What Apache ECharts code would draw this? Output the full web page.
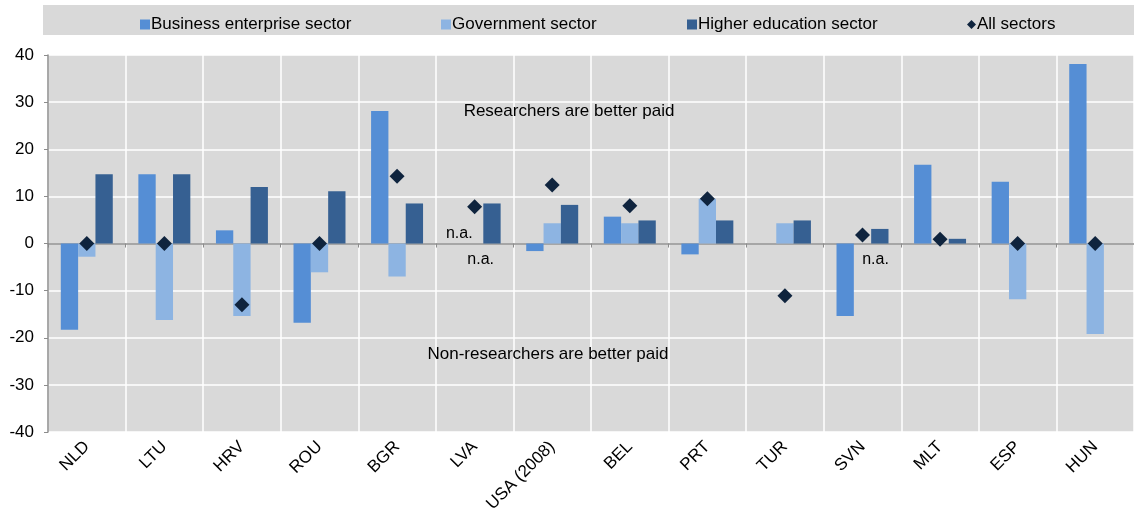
<!DOCTYPE html>
<html>
<head>
<meta charset="utf-8">
<script src="https://cdn.jsdelivr.net/npm/echarts@6/dist/echarts.min.js"></script>
<style>
  html, body { margin: 0; padding: 0; background: #fff; }
  #chart { width: 1134px; height: 515px; }
</style>
</head>
<body>
<div id="chart"></div>
<script>
var categories = ['NLD', 'LTU', 'HRV', 'ROU', 'BGR', 'LVA', 'USA (2008)', 'BEL', 'PRT', 'TUR', 'SVN', 'MLT', 'ESP', 'HUN'];
var business = [-18.3, 14.7, 2.8, -16.8, 28.1, null, -1.6, 5.7, -2.3, null, -15.4, 16.7, 13.1, 38.1];
var government = [-2.8, -16.2, -15.4, -6.1, -7.0, null, 4.3, 4.3, 9.5, 4.3, null, null, -11.8, -19.2];
var higher = [14.7, 14.7, 12.0, 11.1, 8.5, 8.5, 8.2, 4.9, 4.9, 4.9, 3.1, 1.0, null, null];
var allSectors = [0, 0, -13.0, 0, 14.3, 7.8, 12.4, 8.0, 9.5, -11.1, 1.8, 0.9, 0, 0];
var yTicks = { min: -40, max: 40, interval: 10 };

var font = 'Arial, "Liberation Sans", sans-serif';
var colors = ['#558ed5', '#8db4e2', '#366092', '#0f243e'];

function legendAt(left, name, icon, w, h) {
  return {
    left: left, top: 11, itemWidth: w, itemHeight: h, itemGap: 0,
    icon: icon, data: [name], selectedMode: false,
    textStyle: { fontFamily: font, fontSize: 17, color: '#000', padding: [0, 0, 0, -4] }
  };
}

// n.a. labels sit on the zero line
function naPoint(cat, dx, dy) {
  return {
    coord: [cat, 0], symbolSize: 0,
    label: { show: true, formatter: 'n.a.', offset: [dx, dy], color: '#000', fontFamily: font, fontSize: 16 }
  };
}

var chart = echarts.init(document.getElementById('chart'));
chart.setOption({
  animation: false,
  color: colors,
  graphic: [
    { type: 'rect', z: -10, shape: { x: 43, y: 5, width: 1091, height: 30 }, style: { fill: '#d9d9d9' } },
    { type: 'text', z: 100, x: 569, y: 111, style: { text: 'Researchers are better paid', font: '17px ' + font, fill: '#000', textAlign: 'center', textVerticalAlign: 'middle' } },
    { type: 'text', z: 100, x: 548, y: 354, style: { text: 'Non-researchers are better paid', font: '17px ' + font, fill: '#000', textAlign: 'center', textVerticalAlign: 'middle' } }
  ],
  legend: [
    legendAt(135, 'Business enterprise sector', 'rect', 10, 10),
    legendAt(436, 'Government sector', 'rect', 10, 10),
    legendAt(682, 'Higher education sector', 'rect', 10, 10),
    legendAt(962, 'All sectors', 'diamond', 9, 9)
  ],
  grid: {
    left: 48, right: 0, top: 55, bottom: 82,
    show: true, backgroundColor: '#d9d9d9', borderWidth: 0
  },
  xAxis: [{
    type: 'category',
    data: categories,
    axisLine: { onZero: true, lineStyle: { color: '#8c8c8c', width: 1.5 } },
    axisTick: { show: true, interval: 0, length: 4, lineStyle: { color: '#8c8c8c' } },
    axisLabel: { show: false, interval: 0 },
    splitLine: { show: true, interval: 0, lineStyle: { color: '#fff', width: 1.5 } }
  }, {
    type: 'category',
    data: categories,
    position: 'bottom',
    axisLine: { show: false, onZero: false },
    axisTick: { show: false },
    axisLabel: { interval: 0, rotate: 45, margin: 12, color: '#000', fontFamily: font, fontSize: 17 },
    splitLine: { show: false }
  }],
  yAxis: {
    type: 'value',
    min: yTicks.min, max: yTicks.max, interval: yTicks.interval,
    axisLine: { show: true, lineStyle: { color: '#8c8c8c', width: 1.5 } },
    axisTick: { show: true, length: 4, lineStyle: { color: '#8c8c8c' } },
    axisLabel: { color: '#000', fontFamily: font, fontSize: 17, margin: 14 },
    splitLine: { lineStyle: { color: '#fff', width: 1.5 } }
  },
  series: [{
    name: 'Business enterprise sector',
    type: 'bar',
    data: business,
    barGap: '0%',
    barCategoryGap: '33%',
    markPoint: { symbol: 'circle', data: [naPoint('LVA', 2, -10)] }
  }, {
    name: 'Government sector',
    type: 'bar',
    data: government,
    markPoint: { symbol: 'circle', data: [naPoint('LVA', 6, 16), naPoint('SVN', 13, 16)] }
  }, {
    name: 'Higher education sector',
    type: 'bar',
    data: higher
  }, {
    name: 'All sectors',
    type: 'scatter',
    data: allSectors,
    symbol: 'diamond',
    symbolSize: 15,
    z: 5,
    itemStyle: { color: colors[3], opacity: 1 }
  }]
});
</script>
</body>
</html>
